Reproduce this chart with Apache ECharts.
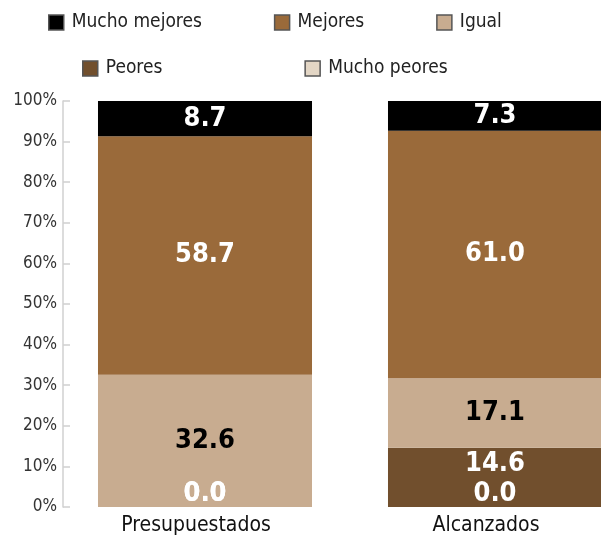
<!DOCTYPE html>
<html>
<head>
<meta charset="utf-8">
<script src="https://cdn.jsdelivr.net/npm/echarts@6/dist/echarts.min.js"></script>
<style>
  html, body { margin: 0; padding: 0; background: #fff; overflow: hidden; }
  /* la figura original corta la segunda barra por la derecha */
  #chart { width: 650px; height: 536px; }
</style>
</head>
<body>
<div id="chart"></div>
<script>
// datos
var categorias = ['Presupuestados', 'Alcanzados'];
var muchoPeores = [0.0, 0.0];
var peores = [0.0, 14.6];
var igual = [32.6, 17.1];
var mejores = [58.7, 61.0];
var muchoMejores = [8.7, 7.3];

var fuente = "'DejaVu Sans Condensed', sans-serif";

// los ceros van pegados abajo de la barra; subir = desplazar la etiqueta para no pisar el 0.0
function toData(arr, subir) {
  return arr.map(function (v) {
    if (v === 0) {
      return { value: v, label: { position: 'insideBottom', distance: 0 } };
    }
    if (subir) return { value: v, label: { offset: [0, -subir] } };
    return v;
  });
}

function serie(nombre, arr, color, colorTxt, subir) {
  return {
    name: nombre,
    type: 'bar',
    stack: 'total',
    barWidth: '73.8%',
    data: toData(arr, subir),
    itemStyle: { color: color },
    label: {
      show: true, position: 'inside',
      color: colorTxt, fontFamily: fuente, fontWeight: 'bold', fontSize: 27,
      formatter: function (p) { return p.value.toFixed(1); }
    }
  };
}

var series = [
  serie('Mucho peores', muchoPeores, '#e3d6c5', '#fff'),
  serie('Peores', peores, '#714f2d', '#fff', 13),
  serie('Igual', igual, '#c8ac90', '#000'),
  serie('Mejores', mejores, '#9a6a3a', '#fff'),
  serie('Mucho mejores', muchoMejores, '#000000', '#fff')
];

var legendBase = {
  icon: 'rect', itemWidth: 15, itemHeight: 15, orient: 'horizontal', padding: 0,
  itemStyle: { borderColor: '#555', borderWidth: 1.5 },
  textStyle: { fontFamily: fuente, fontSize: 19, color: '#222', padding: [0, 0, 0, 3] }
};

var chart = echarts.init(document.getElementById('chart'));
var option = {
  animation: false,
  legend: [
    Object.assign({}, legendBase, { data: ['Mucho mejores', 'Mejores', 'Igual'], left: 48, top: 13, itemGap: 72 }),
    Object.assign({}, legendBase, { data: ['Peores', 'Mucho peores'], left: 82, top: 59, itemGap: 142 })
  ],
  grid: { left: 60, top: 101, right: 10, height: 408 },
  xAxis: {
    type: 'category', data: categorias,
    axisLine: { show: false }, axisTick: { show: false },
    axisLabel: { fontFamily: fuente, fontSize: 21, color: '#111', margin: 8, padding: [0, 18, 0, 0] }
  },
  yAxis: {
    type: 'value', min: 0, max: 100, interval: 10, offset: -3,
    axisLine: { show: true, lineStyle: { color: '#d0d0d0', width: 1.5 } },
    axisTick: { show: true, inside: true, length: 7, interval: 1, lineStyle: { color: '#d0d0d0', width: 1.5 } },
    splitLine: { show: false },
    axisLabel: { formatter: '{value}%', fontFamily: fuente, fontSize: 17, color: '#333', margin: 6 }
  },
  series: series
};
chart.setOption(option);
</script>
</body>
</html>
